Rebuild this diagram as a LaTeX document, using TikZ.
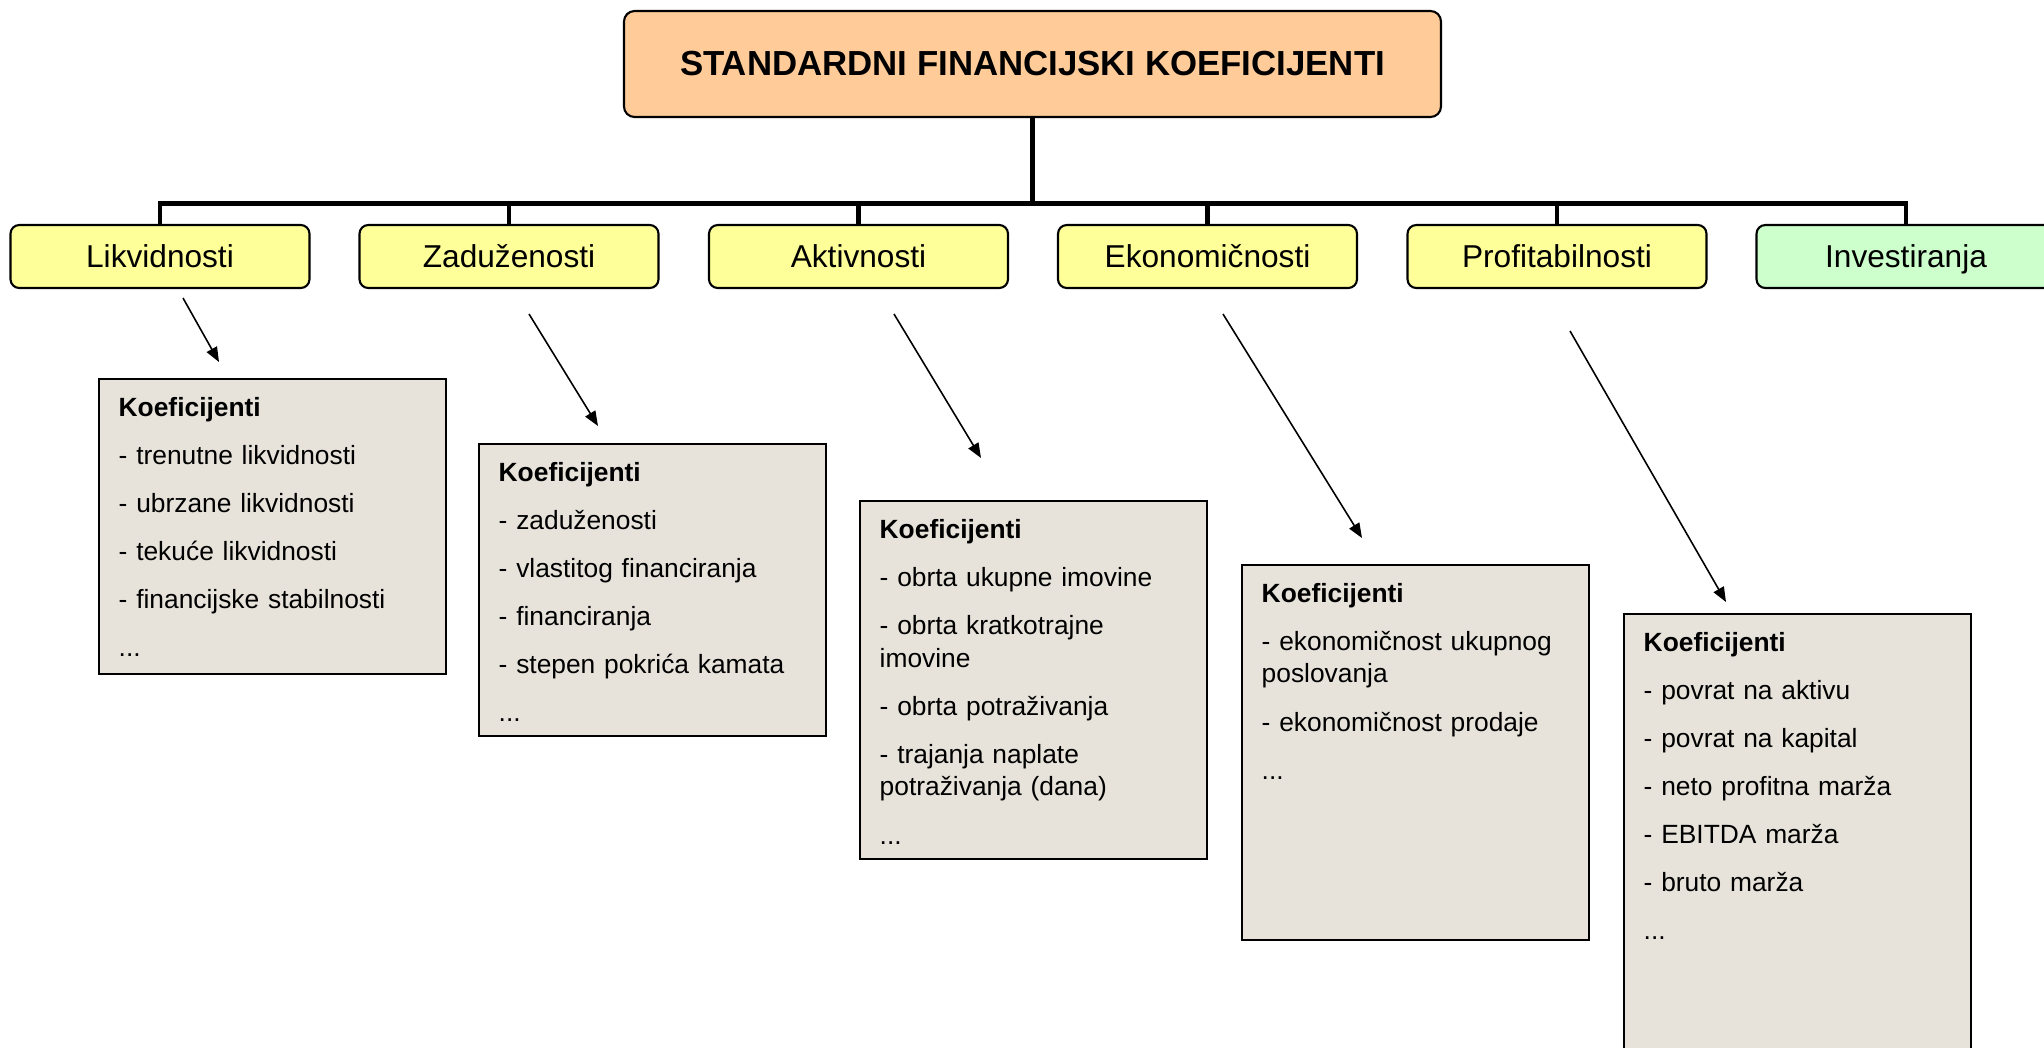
\documentclass[tikz,border=0pt]{standalone}
\usepackage{fontspec}
\setmainfont{Liberation Sans}
\usetikzlibrary{arrows.meta}

\definecolor{peach}{RGB}{255,204,153}
\definecolor{paleyellow}{RGB}{255,255,153}
\definecolor{palegreen}{RGB}{204,255,204}
\definecolor{boxgray}{RGB}{231,227,219}

\def\groupy{-2.565}   % centre line of the group boxes
\def\gap{4.4pt}       % extra space between two items

\begin{document}
\begin{tikzpicture}[
    nodes = {font=\fontsize{7.5pt}{9.3pt}\selectfont},
    group/.style = {draw, line width=0.6pt, rounded corners=2.5pt, fill=paleyellow,
      minimum width=2.99cm, minimum height=0.63cm, text height=6.3pt, text depth=0pt,
      font=\fontsize{9pt}{11pt}\selectfont},
    koefbox/.style = {draw, line width=0.7pt, fill=boxgray, anchor=north west,
      minimum width=3.47cm},
    koeftext/.style = {anchor=base west, text width=3.2cm, align=left, inner sep=0pt},
    branch/.style = {line width=1.4pt},
    pointer/.style = {line width=0.45pt, -{Triangle[length=4.2pt,width=3.3pt]}}
  ]
  \useasboundingbox (0,0) rectangle (20.44,-10.47);
  \clip (0,0) rectangle (20.44,-10.47);

  % Title
  \node[draw, line width=0.6pt, rounded corners=3pt, fill=peach,
    minimum width=8.17cm, minimum height=1.06cm,
    font=\bfseries\fontsize{9.9pt}{12pt}\selectfont]
    (title) at (10.325,-0.64) {STANDARDNI FINANCIJSKI KOEFICIJENTI};

  % Groups of ratios
  \foreach \x/\name/\txt in {
      1.60/likv/Likvidnosti,
      5.09/zad/Zaduženosti,
      8.585/akt/Aktivnosti,
      12.075/eko/Ekonomičnosti,
      15.57/prof/Profitabilnosti
    } {
      \node[group] (\name) at (\x,\groupy) {\txt};
    };
  \node[group, fill=palegreen] (inv) at (19.06,\groupy) {Investiranja};

  % Tree lines
  \draw[branch] (title.south) -- ++(0,-0.85) coordinate (join);
  \draw[branch] (likv.north) -- (likv.north |- join) -- (inv.north |- join) -- (inv.north);
  \foreach \name in {zad,akt,eko,prof}
    \draw[branch] (\name.north) -- (\name.north |- join);

  % Boxes with the ratios
  \node[koefbox, minimum height=2.95cm] (kl) at (0.98,-3.78) {};
  \node[koefbox, minimum height=2.92cm] (kz) at (4.78,-4.43) {};
  \node[koefbox, minimum height=3.58cm] (ka) at (8.59,-5.00) {};
  \node[koefbox, minimum height=3.75cm] (ke) at (12.41,-5.64) {};
  \node[koefbox, minimum height=5.00cm] (kp) at (16.23,-6.13) {};

  \node[koeftext] (kltext) at ([xshift=0.20cm, yshift=-0.38cm]kl.north west) {%
    \textbf{Koeficijenti}\\[\gap]
    - trenutne likvidnosti\\[\gap]
    - ubrzane likvidnosti\\[\gap]
    - tekuće likvidnosti\\[\gap]
    - financijske stabilnosti\\[\gap]
    ...};
  \node[koeftext] (kztext) at ([xshift=0.20cm, yshift=-0.38cm]kz.north west) {%
    \textbf{Koeficijenti}\\[\gap]
    - zaduženosti\\[\gap]
    - vlastitog financiranja\\[\gap]
    - financiranja\\[\gap]
    - stepen pokrića kamata\\[\gap]
    ...};
  \node[koeftext] (katext) at ([xshift=0.20cm, yshift=-0.38cm]ka.north west) {%
    \textbf{Koeficijenti}\\[\gap]
    - obrta ukupne imovine\\[\gap]
    - obrta kratkotrajne\\
    imovine\\[\gap]
    - obrta potraživanja\\[\gap]
    - trajanja naplate\\
    potraživanja (dana)\\[\gap]
    ...};
  \node[koeftext] (ketext) at ([xshift=0.20cm, yshift=-0.38cm]ke.north west) {%
    \textbf{Koeficijenti}\\[\gap]
    - ekonomičnost ukupnog\\
    poslovanja\\[\gap]
    - ekonomičnost prodaje\\[\gap]
    ...};
  \node[koeftext] (kptext) at ([xshift=0.20cm, yshift=-0.38cm]kp.north west) {%
    \textbf{Koeficijenti}\\[\gap]
    - povrat na aktivu\\[\gap]
    - povrat na kapital\\[\gap]
    - neto profitna marža\\[\gap]
    - EBITDA marža\\[\gap]
    - bruto marža\\[\gap]
    ...};

  % Pointers from the groups to their boxes
  \foreach \name/\sx/\sy/\ex/\ey in {
      likv/1.83/-2.98/2.19/-3.62,
      zad/5.29/-3.14/5.98/-4.26,
      akt/8.94/-3.14/9.81/-4.58,
      eko/12.23/-3.14/13.62/-5.38,
      prof/15.70/-3.31/17.26/-6.02
    } {
      \coordinate (\name-from) at (\sx,\sy);
      \coordinate (\name-to) at (\ex,\ey);
      \draw[pointer] (\name-from) -- (\name-to);
    };
\end{tikzpicture}
\end{document}
